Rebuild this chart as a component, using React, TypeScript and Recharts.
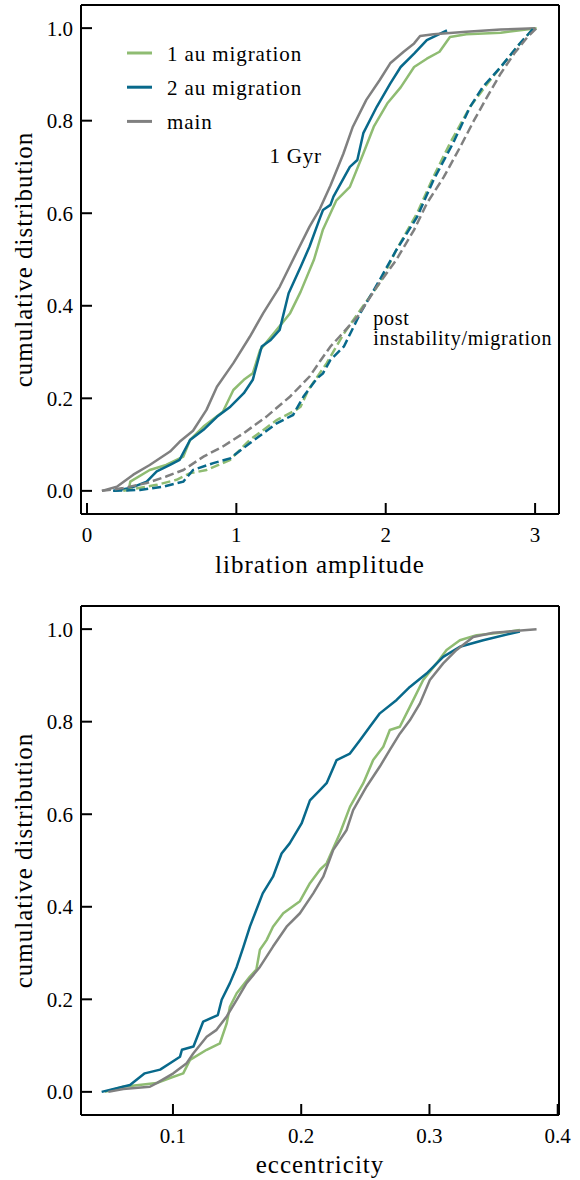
import React from 'react';
import { LineChart, Line, XAxis, YAxis, Legend, ReferenceDot } from 'recharts';

type Pt = [number, number];

// libration amplitude CDFs after 1 Gyr  [amplitude, cumulative fraction]
const libGyr1au: Pt[] = [
  [0.28, 0.003], [0.29, 0.02], [0.42, 0.045], [0.53, 0.056], [0.645, 0.074], [0.69, 0.11],
  [0.78, 0.139], [0.91, 0.171], [0.98, 0.218], [1.05, 0.24], [1.11, 0.254], [1.16, 0.305],
  [1.27, 0.348], [1.36, 0.384], [1.43, 0.43], [1.52, 0.5], [1.58, 0.565], [1.67, 0.628],
  [1.76, 0.657], [1.85, 0.729], [1.92, 0.787], [2.01, 0.837], [2.1, 0.872], [2.19, 0.916],
  [2.275, 0.934], [2.36, 0.949], [2.43, 0.981], [2.54, 0.987], [2.77, 0.99], [3.01, 1.0],
];
const libGyr2au: Pt[] = [
  [0.176, 0], [0.29, 0.006], [0.4, 0.02], [0.467, 0.042], [0.556, 0.056], [0.62, 0.067],
  [0.69, 0.11], [0.78, 0.132], [0.87, 0.16], [0.96, 0.182], [1.05, 0.211], [1.11, 0.24],
  [1.17, 0.312], [1.23, 0.326], [1.29, 0.348], [1.35, 0.427], [1.43, 0.484], [1.49, 0.528],
  [1.56, 0.59], [1.58, 0.607], [1.63, 0.618], [1.65, 0.636], [1.76, 0.7], [1.81, 0.715],
  [1.85, 0.773], [1.94, 0.83], [2.03, 0.88], [2.1, 0.916], [2.19, 0.945], [2.275, 0.974],
  [2.41, 0.995],
];
const libGyrMain: Pt[] = [
  [0.1, 0], [0.2, 0.009], [0.31, 0.035], [0.42, 0.056], [0.556, 0.085], [0.62, 0.106],
  [0.71, 0.13], [0.8, 0.175], [0.87, 0.225], [0.98, 0.276], [1.09, 0.333], [1.18, 0.384],
  [1.29, 0.441], [1.4, 0.513], [1.49, 0.571], [1.56, 0.61], [1.63, 0.66], [1.717, 0.729],
  [1.78, 0.787], [1.87, 0.845], [1.96, 0.888], [2.03, 0.924], [2.12, 0.949], [2.19, 0.967],
  [2.23, 0.983], [2.32, 0.987], [2.54, 0.992], [2.77, 0.997], [3.0, 1.0],
];

// libration amplitude CDFs right after the instability / migration
const libPost1au: Pt[] = [
  [0.243, 0], [0.467, 0.013], [0.6, 0.024], [0.69, 0.038], [0.8, 0.045], [0.958, 0.067],
  [1.09, 0.11], [1.27, 0.153], [1.4, 0.175], [1.43, 0.182], [1.47, 0.21], [1.49, 0.222],
  [1.605, 0.276], [1.72, 0.34], [1.83, 0.391], [1.96, 0.449], [2.07, 0.52], [2.21, 0.6],
  [2.32, 0.679], [2.43, 0.751], [2.565, 0.83], [2.68, 0.88], [2.79, 0.924], [2.9, 0.967],
  [2.99, 1.0],
];
const libPost2au: Pt[] = [
  [0.176, 0], [0.355, 0.002], [0.51, 0.009], [0.645, 0.02], [0.71, 0.045], [0.846, 0.06],
  [0.958, 0.07], [1.09, 0.103], [1.27, 0.146], [1.38, 0.164], [1.45, 0.204], [1.54, 0.243],
  [1.58, 0.254], [1.63, 0.283], [1.72, 0.312], [1.83, 0.384], [1.96, 0.456], [2.07, 0.52],
  [2.21, 0.592], [2.32, 0.672], [2.45, 0.751], [2.565, 0.83], [2.65, 0.873], [2.77, 0.916],
  [2.88, 0.96], [2.99, 1.0],
];
const libPostMain: Pt[] = [
  [0.1, 0], [0.243, 0.006], [0.4, 0.017], [0.53, 0.031], [0.645, 0.045], [0.78, 0.074],
  [0.91, 0.096], [1.05, 0.125], [1.2, 0.16], [1.36, 0.204], [1.49, 0.247], [1.56, 0.28],
  [1.63, 0.312], [1.69, 0.333], [1.81, 0.376], [1.94, 0.441], [2.07, 0.499], [2.19, 0.564],
  [2.275, 0.621], [2.39, 0.679], [2.5, 0.744], [2.59, 0.8], [2.68, 0.852], [2.77, 0.902],
  [2.86, 0.945], [2.95, 0.981], [3.01, 1.0],
];

// eccentricity CDFs
const ecc1au: Pt[] = [
  [0.047, 0], [0.0613, 0.011], [0.0873, 0.019], [0.0977, 0.03], [0.108, 0.04], [0.1133, 0.069],
  [0.1263, 0.091], [0.1366, 0.105], [0.1419, 0.148], [0.1444, 0.184], [0.1497, 0.213],
  [0.16, 0.249], [0.165, 0.264], [0.1678, 0.307], [0.173, 0.328], [0.178, 0.357],
  [0.186, 0.386], [0.199, 0.412], [0.2068, 0.451], [0.2146, 0.48], [0.2198, 0.494],
  [0.2302, 0.559], [0.238, 0.616], [0.2484, 0.667], [0.2561, 0.717], [0.264, 0.746],
  [0.2691, 0.782], [0.2769, 0.789], [0.2847, 0.832], [0.2951, 0.89], [0.3055, 0.926],
  [0.3133, 0.955], [0.3237, 0.976], [0.3367, 0.987], [0.3549, 0.992], [0.3705, 0.998],
];
const ecc2au: Pt[] = [
  [0.0444, 0], [0.0665, 0.015], [0.078, 0.04], [0.09, 0.048], [0.0977, 0.062], [0.1055, 0.076],
  [0.107, 0.091], [0.116, 0.098], [0.1236, 0.152], [0.135, 0.166], [0.138, 0.199],
  [0.1444, 0.235], [0.1497, 0.27], [0.155, 0.314], [0.16, 0.357], [0.165, 0.393],
  [0.17, 0.429], [0.178, 0.465], [0.1847, 0.515], [0.191, 0.537], [0.2003, 0.58],
  [0.2068, 0.63], [0.2146, 0.652], [0.2198, 0.667], [0.2276, 0.717], [0.238, 0.731],
  [0.2458, 0.76], [0.2535, 0.789], [0.2613, 0.818], [0.2744, 0.847], [0.2847, 0.875],
  [0.2977, 0.904], [0.3107, 0.94], [0.3237, 0.962], [0.3419, 0.976], [0.3705, 0.995],
];
const eccMain: Pt[] = [
  [0.0496, 0], [0.0613, 0.006], [0.082, 0.011], [0.0873, 0.019], [0.1003, 0.04],
  [0.1107, 0.062], [0.1158, 0.083], [0.1263, 0.119], [0.134, 0.134], [0.1419, 0.163],
  [0.1497, 0.199], [0.1574, 0.235], [0.1678, 0.27], [0.178, 0.314], [0.1886, 0.357],
  [0.199, 0.386], [0.2094, 0.429], [0.2172, 0.465], [0.225, 0.523], [0.2354, 0.566],
  [0.2405, 0.609], [0.251, 0.66], [0.2613, 0.703], [0.2691, 0.739], [0.2769, 0.774],
  [0.2847, 0.803], [0.2925, 0.839], [0.3003, 0.89], [0.3107, 0.926], [0.3211, 0.955],
  [0.3341, 0.983], [0.3497, 0.992], [0.3835, 1.0],
];

const libTicks = [0, 1, 2, 3];
const eccTicks = [0.1, 0.2, 0.3, 0.4];
const cdfTicks = [0, 0.2, 0.4, 0.6, 0.8, 1.0];
const seriesNames = ['1 au migration', '2 au migration', 'main'];

const GREEN = '#8fbc72';
const BLUE = '#08698b';
const GRAY = '#808080';
const FONT = 'Liberation Serif, Tinos, Times New Roman, DejaVu Serif, Noto Serif, serif';
const DASH = '9 4';

const rows = (pts: Pt[]) => pts.map(([x, y]) => ({ x, y }));

const spine = { stroke: '#000', strokeWidth: 2 };
const tickFont = { fontSize: 21, fill: '#000', style: { fontFamily: FONT } };

const xLabel = (text: string, y: number) => () => (
  <text x={320} y={y} textAnchor="middle" fontSize={25} style={{ fontFamily: FONT }} fill="#000" letterSpacing={1}>
    {text}
  </text>
);

const yLabel = (cy: number) => () => (
  <text
    x={32}
    y={cy}
    transform={`rotate(-90 32 ${cy})`}
    textAnchor="middle"
    fontSize={25}
    style={{ fontFamily: FONT }}
    fill="#000"
    letterSpacing={1}
  >
    cumulative distribution
  </text>
);

function LegendBox(props: any) {
  const items = (props.payload || []).filter((p: any) => p.type !== 'none');
  return (
    <svg width={340} height={140} style={{ display: 'block' }}>
      {items.map((p: any, i: number) => {
        const y = 53 + i * 34.2;
        return (
          <g key={p.value}>
            <line x1={127} x2={152} y1={y} y2={y} stroke={p.color} strokeWidth={3} />
            <text x={167} y={y + 7.5} fontSize={21} style={{ fontFamily: FONT }} fill="#000" letterSpacing={0.9}>
              {p.value}
            </text>
          </g>
        );
      })}
    </svg>
  );
}

const noteFont = { fontSize: 20, fill: '#000', letterSpacing: 0.75, style: { fontFamily: FONT } };

export default function App() {
  const libDomain: [number, number] = [-0.04, 3.16];
  const eccDomain: [number, number] = [0.0283, 0.401];
  const cdfDomain: [number, number] = [-0.05, 1.05];

  return (
    <div style={{ position: 'absolute', left: 0, top: 0, width: 580, height: 1180, background: '#fff', fontFamily: FONT }}>
      <LineChart width={580} height={590} margin={{ top: 0, right: 0, bottom: 0, left: 0 }}>
        <XAxis
          dataKey="x"
          type="number"
          domain={libDomain}
          allowDataOverflow
          ticks={libTicks}
          interval={0}
          height={76}
          axisLine={spine}
          tickLine={spine}
          tickSize={-11}
          tickMargin={24}
          tick={tickFont}
          tickFormatter={(v: number) => String(v)}
          label={xLabel('libration amplitude', 573)}
        />
        <XAxis
          xAxisId="top"
          orientation="top"
          dataKey="x"
          type="number"
          domain={libDomain}
          allowDataOverflow
          ticks={libTicks}
          interval={0}
          height={5}
          axisLine={spine}
          tickLine={spine}
          tickSize={-11}
          tick={false}
        />
        <YAxis
          dataKey="y"
          type="number"
          domain={cdfDomain}
          allowDataOverflow
          ticks={cdfTicks}
          interval={0}
          width={81}
          axisLine={spine}
          tickLine={spine}
          tickSize={-11}
          tickMargin={19}
          tick={tickFont}
          tickFormatter={(v: number) => v.toFixed(1)}
          label={yLabel(259.5)}
        />
        <YAxis
          yAxisId="right"
          orientation="right"
          type="number"
          domain={cdfDomain}
          allowDataOverflow
          ticks={cdfTicks}
          interval={0}
          width={21}
          axisLine={spine}
          tickLine={spine}
          tickSize={-11}
          tick={false}
        />
        <Legend
          layout="vertical"
          align="center"
          verticalAlign="middle"
          wrapperStyle={{ left: 0, top: 0, width: 340, height: 140 }}
          content={<LegendBox />}
        />
        <Line data={rows(libGyr1au)} dataKey="y" name={seriesNames[0]} stroke={GREEN} strokeWidth={2.5} dot={false} strokeLinejoin="round" isAnimationActive={false} />
        <Line data={rows(libGyr2au)} dataKey="y" name={seriesNames[1]} stroke={BLUE} strokeWidth={2.5} dot={false} strokeLinejoin="round" isAnimationActive={false} />
        <Line data={rows(libGyrMain)} dataKey="y" name={seriesNames[2]} stroke={GRAY} strokeWidth={2.5} dot={false} strokeLinejoin="round" isAnimationActive={false} />
        <Line data={rows(libPost1au)} dataKey="y" legendType="none" stroke={GREEN} strokeWidth={2.5} strokeDasharray={DASH} dot={false} isAnimationActive={false} />
        <Line data={rows(libPost2au)} dataKey="y" legendType="none" stroke={BLUE} strokeWidth={2.5} strokeDasharray={DASH} dot={false} isAnimationActive={false} />
        <Line data={rows(libPostMain)} dataKey="y" legendType="none" stroke={GRAY} strokeWidth={2.5} strokeDasharray={DASH} dot={false} isAnimationActive={false} />
        <ReferenceDot x={1.397} y={0.724} r={0} stroke="none" label={{ value: '1 Gyr', position: 'center', ...noteFont, fontSize: 21 }} />
        <ReferenceDot x={1.916} y={0.374} r={0} stroke="none" label={{ value: 'post', position: 'right', offset: 0, ...noteFont }} />
        <ReferenceDot x={1.916} y={0.3305} r={0} stroke="none" label={{ value: 'instability/migration', position: 'right', offset: 0, ...noteFont }} />
      </LineChart>

      <LineChart width={580} height={590} margin={{ top: 0, right: 0, bottom: 0, left: 0 }}>
        <XAxis
          dataKey="x"
          type="number"
          domain={eccDomain}
          allowDataOverflow
          ticks={eccTicks}
          interval={0}
          height={65}
          axisLine={spine}
          tickLine={spine}
          tickSize={-11}
          tickMargin={24}
          tick={tickFont}
          tickFormatter={(v: number) => v.toFixed(1)}
          label={xLabel('eccentricity', 583)}
        />
        <XAxis
          xAxisId="top"
          orientation="top"
          dataKey="x"
          type="number"
          domain={eccDomain}
          allowDataOverflow
          ticks={eccTicks}
          interval={0}
          height={16}
          axisLine={spine}
          tickLine={spine}
          tickSize={-11}
          tick={false}
        />
        <YAxis
          dataKey="y"
          type="number"
          domain={cdfDomain}
          allowDataOverflow
          ticks={cdfTicks}
          interval={0}
          width={81}
          axisLine={spine}
          tickLine={spine}
          tickSize={-11}
          tickMargin={19}
          tick={tickFont}
          tickFormatter={(v: number) => v.toFixed(1)}
          label={yLabel(270.5)}
        />
        <YAxis
          yAxisId="right"
          orientation="right"
          type="number"
          domain={cdfDomain}
          allowDataOverflow
          ticks={cdfTicks}
          interval={0}
          width={21}
          axisLine={spine}
          tickLine={spine}
          tickSize={-11}
          tick={false}
        />
        <Line data={rows(ecc1au)} dataKey="y" name={seriesNames[0]} stroke={GREEN} strokeWidth={2.5} dot={false} strokeLinejoin="round" isAnimationActive={false} />
        <Line data={rows(ecc2au)} dataKey="y" name={seriesNames[1]} stroke={BLUE} strokeWidth={2.5} dot={false} strokeLinejoin="round" isAnimationActive={false} />
        <Line data={rows(eccMain)} dataKey="y" name={seriesNames[2]} stroke={GRAY} strokeWidth={2.5} dot={false} strokeLinejoin="round" isAnimationActive={false} />
      </LineChart>
    </div>
  );
}
